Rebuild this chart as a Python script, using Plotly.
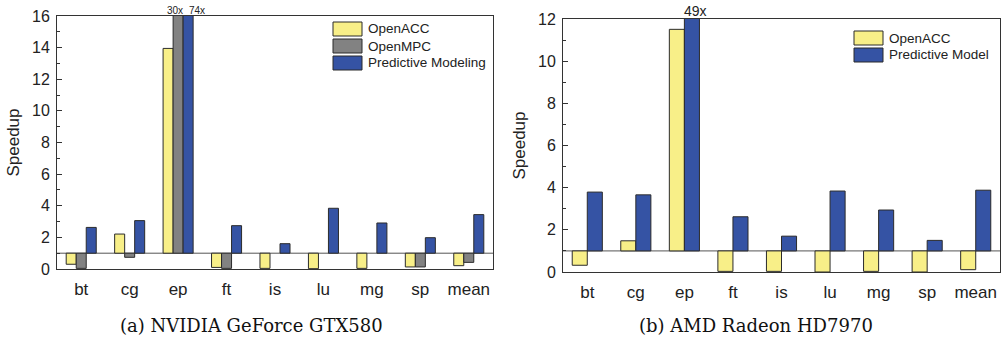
import plotly.graph_objects as go

categories = ["bt", "cg", "ep", "ft", "is", "lu", "mg", "sp", "mean"]
# NVIDIA GeForce GTX580 speedups
nv_openacc = [0.30, 2.21, 13.95, 0.10, 0.04, 0.02, 0.04, 0.13, 0.21]
nv_openmpc = [0.04, 0.74, 30.0, 0.04, None, None, None, 0.13, 0.42]
nv_pm = [2.63, 3.06, 74.0, 2.74, 1.60, 3.84, 2.91, 1.98, 3.44]
# AMD Radeon HD7970 speedups
amd_openacc = [0.32, 1.48, 11.51, 0.03, 0.03, 0.0, 0.03, 0.0, 0.11]
amd_pm = [3.79, 3.66, 49.0, 2.62, 1.70, 3.84, 2.94, 1.50, 3.88]
baseline = 1.0

YELLOW = "#F8EF88"
GRAY = "#828282"
BLUE = "#3553A4"
EDGE = "#2b2b2b"
FONT = "Liberation Sans, Arial, sans-serif"
TXT = "#222222"

W, H = 1001, 339
OFF = 0  # body margin removed via post_script

def fx(px):
    return (px - OFF) / W
def fy(py):
    return (H - (py - OFF)) / H
def px_x(a, b):
    return [fx(a), fx(b)]
def px_y(top, bottom):
    return [fy(bottom), fy(top)]

fig = go.Figure()

def add_bar(vals, name, color, xa, ya):
    fig.add_trace(go.Bar(
        x=categories,
        y=[None if v is None else v - baseline for v in vals],
        base=baseline,
        name=name,
        marker=dict(color=color, line=dict(color=EDGE, width=1)),
        xaxis=xa, yaxis=ya, showlegend=False,
        offsetgroup=name + xa,
    ))

add_bar(nv_openacc, "OpenACC", YELLOW, "x", "y")
add_bar(nv_openmpc, "OpenMPC", GRAY, "x", "y")
add_bar(nv_pm, "Predictive Modeling", BLUE, "x", "y")
add_bar(amd_openacc, "OpenACC", YELLOW, "x2", "y2")
add_bar(amd_pm, "Predictive Model", BLUE, "x2", "y2")

axis_common = dict(showline=True, linecolor="#333333", linewidth=1, mirror=True,
                   showgrid=False, zeroline=False, automargin=False, ticklabeloverflow="allow")
xcommon = dict(axis_common, type="category", range=[-0.5, 8.5], ticks="",
               tickfont=dict(family=FONT, size=17, color=TXT), ticklabelstandoff=5)
ycommon = dict(axis_common, ticks="inside", ticklen=5, tickcolor="#333333", dtick=2,
               tickfont=dict(family=FONT, size=16, color=TXT), ticklabelstandoff=3,
               minor=dict(ticks="inside", ticklen=3, dtick=1, tickcolor="#333333"),
               title=dict(text="Speedup", font=dict(family=FONT, size=17, color=TXT), standoff=8))

fig.update_layout(
    width=W, height=H,
    margin=dict(l=0, r=0, t=0, b=0, autoexpand=False),
    paper_bgcolor="white", plot_bgcolor="white",
    barmode="group", bargap=0.38, bargroupgap=0,
    xaxis=dict(xcommon, domain=px_x(57, 493), anchor="y"),
    yaxis=dict(ycommon, domain=px_y(16, 269), range=[0, 16], anchor="x"),
    xaxis2=dict(xcommon, domain=px_x(563, 1000), anchor="y2"),
    yaxis2=dict(ycommon, domain=px_y(19, 272), range=[0, 12], anchor="x2"),
)

shapes = []
annotations = []
# baseline lines
for xr, yr in (("x domain", "y"), ("x2 domain", "y2")):
    shapes.append(dict(type="line", xref=xr, yref=yr, x0=0, x1=1, y0=baseline, y1=baseline,
                       line=dict(color="#555555", width=1), layer="below"))

# custom legends
def legend(entries, x0px, y0px, dy):
    for i, (name, color) in enumerate(entries):
        yc = y0px + i * dy
        shapes.append(dict(type="rect", xref="paper", yref="paper",
                           x0=fx(x0px), x1=fx(x0px + 29),
                           y0=fy(yc + 7), y1=fy(yc - 7),
                           fillcolor=color, line=dict(color=EDGE, width=1)))
        annotations.append(dict(text=name, xref="paper", yref="paper",
                                x=fx(x0px + 33), y=fy(yc), xanchor="left",
                                yanchor="middle", showarrow=False,
                                font=dict(family=FONT, size=13.5, color=TXT)))

legend([("OpenACC", YELLOW), ("OpenMPC", GRAY), ("Predictive Modeling", BLUE)], 333, 29, 17)
legend([("OpenACC", YELLOW), ("Predictive Model", BLUE)], 854, 38, 17)

# overflow labels
annotations.append(dict(text="30x", x="ep", y=16, xref="x", yref="y", xshift=-3, yanchor="bottom",
                        yshift=-2, showarrow=False, font=dict(family=FONT, size=10, color=TXT)))
annotations.append(dict(text="74x", x="ep", y=16, xref="x", yref="y", xshift=19, yanchor="bottom",
                        yshift=-2, showarrow=False, font=dict(family=FONT, size=10, color=TXT)))
annotations.append(dict(text="49x", x="ep", y=12, xref="x2", yref="y2", xshift=11, yanchor="bottom",
                        yshift=-2, showarrow=False, font=dict(family=FONT, size=14, color=TXT)))

# captions
CAP = "DejaVu Serif, Liberation Serif, serif"
annotations.append(dict(text="(a) NVIDIA GeForce GTX580", x=fx(251), y=fy(325), xref="paper",
                        yref="paper", xanchor="center", yanchor="middle", showarrow=False,
                        font=dict(family=CAP, size=18, color="#111111")))
annotations.append(dict(text="(b) AMD Radeon HD7970", x=fx(756), y=fy(325), xref="paper",
                        yref="paper", xanchor="center", yanchor="middle", showarrow=False,
                        font=dict(family=CAP, size=18, color="#111111")))

fig.update_layout(shapes=shapes, annotations=annotations)
fig.write_html("out.html", config={"displayModeBar": False},
               post_script="document.body.style.margin='0px';")
